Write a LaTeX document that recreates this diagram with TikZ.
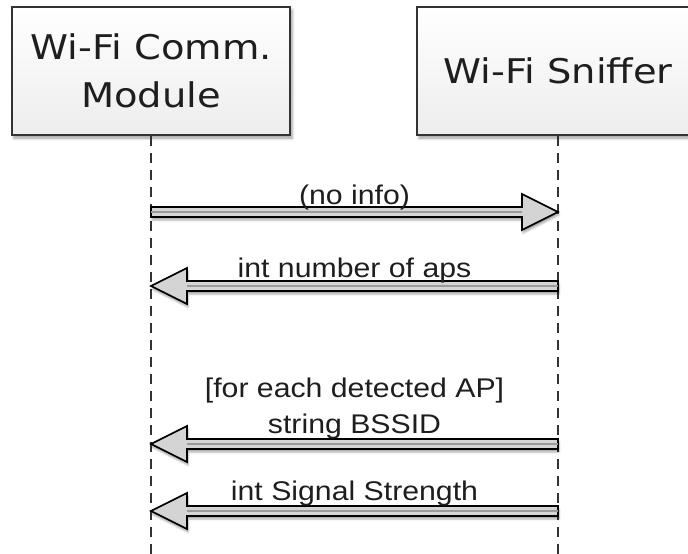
\documentclass[tikz,border=0pt]{standalone}
\usepackage{fontspec}
\usetikzlibrary{calc,shadows.blur}
\newfontfamily\boxfont[FakeStretch=1.13]{DejaVu Sans}
\newfontfamily\msgfont[FakeStretch=1.12]{Liberation Sans}
\definecolor{inkgray}{HTML}{1E1E1E}
\definecolor{framegray}{HTML}{333333}
\definecolor{arrowfill}{HTML}{D4D4D4}
\definecolor{shaftmid}{HTML}{9A9A9A}

% block arrow from #1 to #2 (tip at #2), both at the same height
\newcommand\blockmsg[2]{%
  \filldraw[msgarrow] let \p1=(#1), \p2=(#2), \n1={36*(\x2-\x1)/abs(\x2-\x1)} in
    (\x1,\y1+5pt) -- (\x2-\n1*1pt,\y1+5pt) -- (\x2-\n1*1pt,\y1+18pt) -- (\x2,\y2)
    -- (\x2-\n1*1pt,\y1-18pt) -- (\x2-\n1*1pt,\y1-5pt) -- (\x1,\y1-5pt) -- cycle;
  \draw[shaftmid, line width=1.4pt] let \p1=(#1), \p2=(#2), \n1={36*(\x2-\x1)/abs(\x2-\x1)} in
    (\x1,\y1) -- (\x2-\n1*1pt,\y1);}

\begin{document}
\begin{tikzpicture}[x=1pt,y=-1pt,
  actor/.style={draw=framegray, line width=1.8pt, top color=white, bottom color=gray!14,
    minimum width=278pt, minimum height=128pt, inner sep=0pt, align=center,
    font=\boxfont\fontsize{34}{48}\selectfont, text=inkgray,
    blur shadow={shadow xshift=2pt, shadow yshift=-3pt, shadow blur radius=3pt, shadow opacity=40}},
  lifeline/.style={draw=framegray, line width=2.2pt, dash pattern=on 10pt off 7pt},
  msgarrow/.style={draw=black, line width=1.7pt, fill=arrowfill, line join=miter,
    blur shadow={shadow xshift=1pt, shadow yshift=-3pt, shadow blur radius=2pt, shadow opacity=35}},
  msglabel/.style={font=\msgfont\fontsize{27}{36}\selectfont, text=inkgray, anchor=base,
    align=center, inner sep=0pt}]

\useasboundingbox (0,0) rectangle (688,554);

% participants
\node[actor] (cm) at (151,71) {Wi-Fi Comm.\\Module};
\node[actor, minimum width=282pt] (sn) at (558,71) {Wi-Fi Sniffer};

% lifelines
\coordinate (bottom) at (0,554);
\draw[lifeline] (cm.south) -- (cm.south |- bottom);
\draw[lifeline] (sn.south) -- (sn.south |- bottom);

% message heights
\coordinate (y1) at (0,212);
\coordinate (y2) at (0,286);
\coordinate (y3) at (0,444);
\coordinate (y4) at (0,511);
\foreach \k in {1,2,3,4}{
  \coordinate (m\k a) at (cm.south |- y\k);
  \coordinate (m\k b) at (sn.south |- y\k);
}

% messages
\blockmsg{m1a}{m1b}
\blockmsg{m2b}{m2a}
\blockmsg{m3b}{m3a}
\blockmsg{m4b}{m4a}

% message labels (base = baseline of the last line)
\node[msglabel] (l1) at ($(m1a)!0.5!(m1b)+(0,-8)$) {(no info)};
\node[msglabel] (l2) at ($(m2a)!0.5!(m2b)+(0,-9)$) {int number of aps};
\node[msglabel] (l3) at ($(m3a)!0.5!(m3b)+(0,-11)$) {[for each detected AP]\\string BSSID};
\node[msglabel] (l4) at ($(m4a)!0.5!(m4b)+(0,-11)$) {int Signal Strength};
\end{tikzpicture}
\end{document}
